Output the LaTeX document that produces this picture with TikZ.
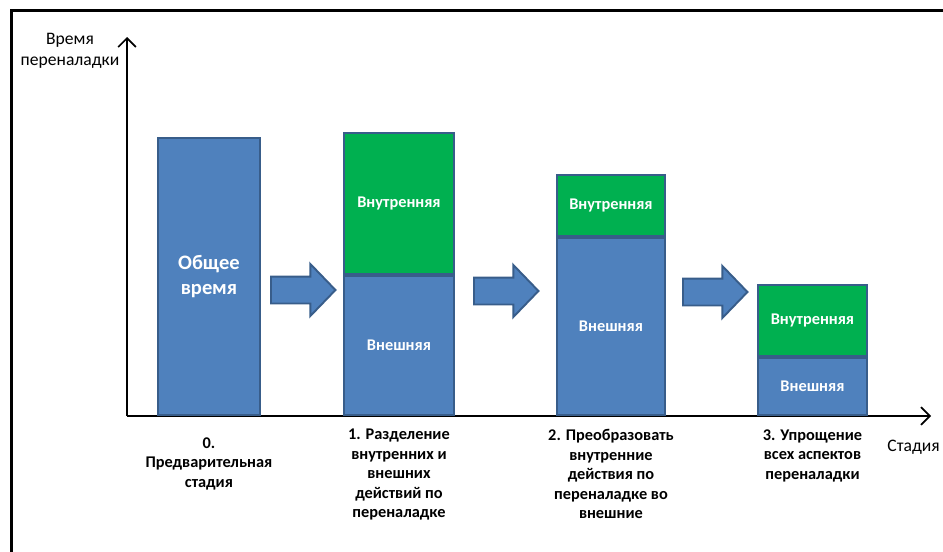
\documentclass[tikz,border=0pt]{standalone}
\usepackage{fontspec}
\setmainfont{Carlito}
\usepackage{tikz}
\usetikzlibrary{shapes.arrows, arrows.meta, positioning}
\definecolor{barblue}{HTML}{4F81BD}
\definecolor{barline}{HTML}{385D8A}
\definecolor{bargreen}{HTML}{00B050}
\tikzstyle{extpart} = [rectangle, draw=barline, line width=1.1pt, fill=barblue, text=white, font=\fontsize{9.3}{11}\selectfont\bfseries, inner sep=0pt, anchor=south west, align=center]
\tikzstyle{intpart} = [extpart, fill=bargreen]
\tikzstyle{blockarrow} = [single arrow, draw=barline, fill=barblue, line width=1.1pt, inner xsep=0pt, inner ysep=0.25cm, minimum height=1.29cm, single arrow head extend=0.25cm, single arrow tip angle=92, anchor=tail]
\tikzstyle{stage} = [align=center, anchor=north, inner sep=0pt, font=\fontsize{9.3}{11.1}\selectfont\bfseries]
\tikzstyle{axislabel} = [align=center, inner sep=0pt, font=\fontsize{10}{11.6}\selectfont]
\tikzstyle{axis} = [line width=1pt, -{Straight Barb[length=5pt,width=10pt]}]

\begin{document}
\begin{tikzpicture}[x=0.02cm, y=-0.02cm]
		\useasboundingbox (0,0) rectangle (943,551);
		\draw [line width=1.7pt] (11.5,570) -- (11.5,10.5) -- (970,10.5);
		
		\coordinate (origin) at (127,416);
		\coordinate (ytop) at (127,37);
		\coordinate (xend) at (931,416);
		\draw [axis] (origin) -- (ytop);
		\draw [axis] (origin) -- (xend);
		\node (ylab) [axislabel, anchor=north] at (70,33) {Время\\переналадки};
		\node (xlab) [axislabel, anchor=north east] at (940,440) {Стадия};
		
		\node (b0) [extpart, minimum width=2.04cm, minimum height=5.54cm, font=\fontsize{11.7}{14.2}\selectfont\bfseries] at (157,416) {Общее\\время};
		
		\node (ext1) [extpart, minimum width=2.2cm, minimum height=2.78cm] at (343,416) {Внешняя};
		\node (int1) [intpart, minimum width=2.2cm, minimum height=2.82cm, above=0pt of ext1] {Внутренняя};
		
		\node (ext2) [extpart, minimum width=2.16cm, minimum height=3.54cm] at (556,416) {Внешняя};
		\node (int2) [intpart, minimum width=2.16cm, minimum height=1.22cm, above=0pt of ext2] {Внутренняя};
		
		\node (ext3) [extpart, minimum width=2.18cm, minimum height=1.14cm] at (757,416) {Внешняя};
		\node (int3) [intpart, minimum width=2.18cm, minimum height=1.42cm, above=0pt of ext3] {Внутренняя};
		
		\node (a1) [blockarrow] at (270,290) {};
		\node (a2) [blockarrow] at (473,291) {};
		\node (a3) [blockarrow] at (682,292) {};
		
		\node (s0) [stage, below=0.42cm of b0] {0.\\Предварительная\\стадия};
		\node (s1) [stage, below=0.26cm of ext1] {1. Разделение\\внутренних и\\внешних\\действий по\\переналадке};
		\node (s2) [stage, below=0.26cm of ext2] {2. Преобразовать\\внутренние\\действия по\\переналадке во\\внешние};
		\node (s3) [stage, below=0.26cm of ext3] {3. Упрощение\\всех аспектов\\переналадки};
\end{tikzpicture}
\end{document}
